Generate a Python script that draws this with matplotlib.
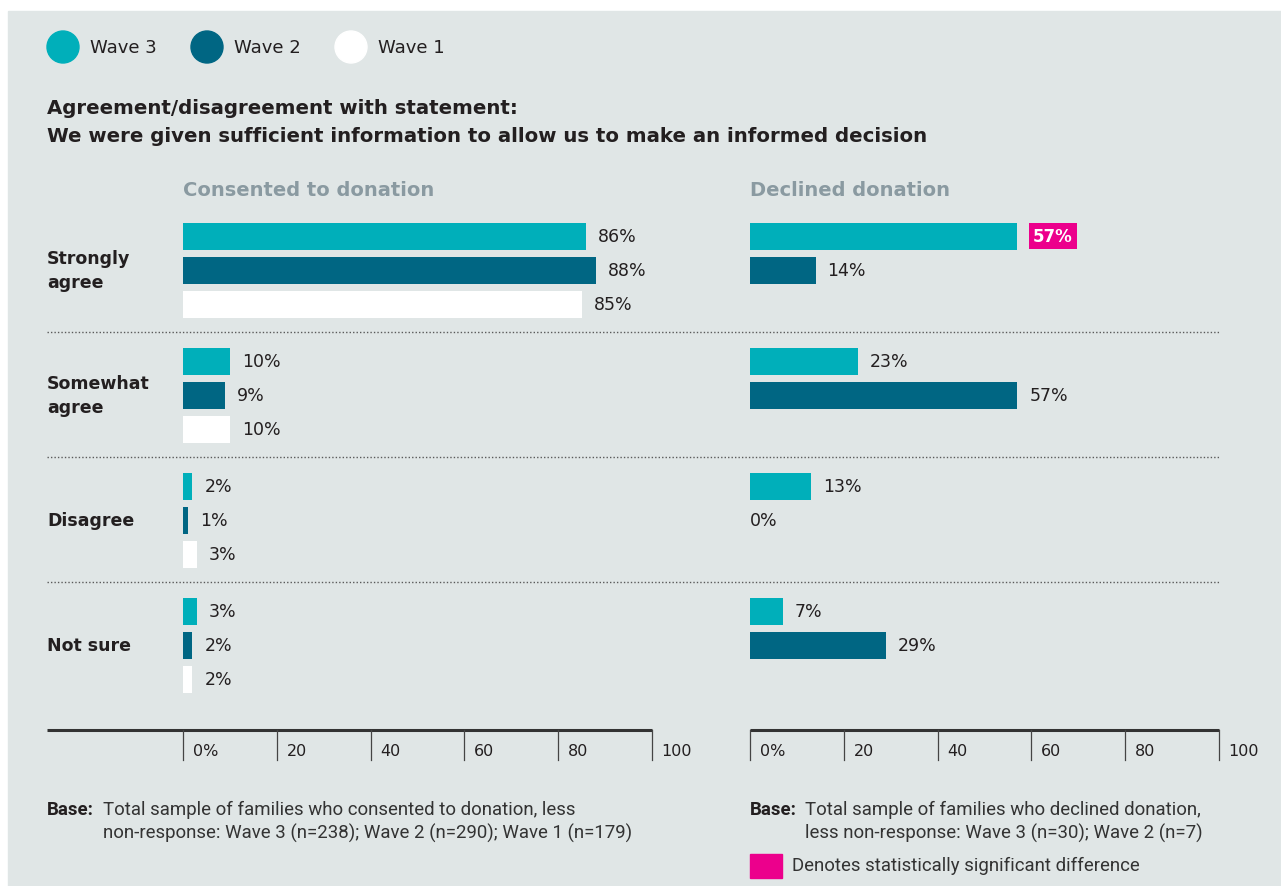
import matplotlib.pyplot as plt
from matplotlib.patches import Circle, Rectangle

W, H = 1281, 887

categories = ['Strongly\nagree', 'Somewhat\nagree', 'Disagree', 'Not sure']
waves = ['Wave 3', 'Wave 2', 'Wave 1']

consented_w3 = [86, 10, 2, 3]
consented_w2 = [88, 9, 1, 2]
consented_w1 = [85, 10, 3, 2]

declined_w3 = [57, 23, 13, 7]
declined_w2 = [14, 57, 0, 29]
declined_sig_w3 = [True, False, False, False]

ticks = [0, 20, 40, 60, 80, 100]
tick_labels = ['0%', '20', '40', '60', '80', '100']

TEAL = '#00afba'
NAVY = '#006683'
WHITE = '#ffffff'
PINK = '#ec008c'
BG = '#e0e6e6'
DARK = '#231f20'
HEAD = '#8a9aa1'

MAIN = ['DejaVu Sans']
NARROW = ['Roboto', 'DejaVu Sans']
FOOT = 13.4


def box(x0, y0, x1, y1):
    return [x0 / W, 1 - y1 / H, (x1 - x0) / W, (y1 - y0) / H]


fig = plt.figure(figsize=(W / 100, H / 100), dpi=100)
fig.patch.set_facecolor('white')

# pixel-space layer for background, text and rules
bg = fig.add_axes([0, 0, 1, 1])
bg.set_xlim(0, W)
bg.set_ylim(H, 0)
bg.axis('off')
bg.add_patch(Rectangle((8, 12), W - 8, H - 12, color=BG, zorder=0))

# legend
for i, (name, col) in enumerate(zip(waves, [TEAL, NAVY, WHITE])):
    cx = 63 + 144 * i
    bg.add_patch(Circle((cx, 48), 16, color=col, zorder=2))
    bg.text(cx + 27, 48, name, fontsize=13, color=DARK, va='center',
            family=MAIN)

bg.text(47, 108, 'Agreement/disagreement with statement:', fontsize=14.2,
        fontweight='bold', color=DARK, va='center', family=MAIN)
bg.text(47, 136, 'We were given sufficient information to allow us to make an informed decision',
        fontsize=14.2, fontweight='bold', color=DARK, va='center', family=MAIN)

bg.text(183, 191, 'Consented to donation', fontsize=14, fontweight='bold',
        color=HEAD, va='center', family=MAIN)
bg.text(750, 191, 'Declined donation', fontsize=14, fontweight='bold',
        color=HEAD, va='center', family=MAIN)

for i, cat in enumerate(categories):
    bg.text(47, 271 + 125 * i, cat, fontsize=12.5, fontweight='bold',
            color=DARK, va='center', family=MAIN, linespacing=1.45)

for y in [333, 458, 583]:
    bg.plot([47, 1220], [y, y], ls=(0, (1, 1.5)), color='#5a5a5a', lw=1.0)

# axis rules
bg.plot([47, 652], [731, 731], color='#333333', lw=2.2, solid_capstyle='butt')
bg.plot([750, 1219], [731, 731], color='#333333', lw=2.2, solid_capstyle='butt')

# footnotes
bg.text(47, 810, 'Base:', fontsize=FOOT, fontweight='bold', color=DARK,
        va='center', family=NARROW)
bg.text(103, 810, 'Total sample of families who consented to donation, less',
        fontsize=FOOT, color='#333333', va='center', family=NARROW)
bg.text(103, 833, 'non-response: Wave 3 (n=238); Wave 2 (n=290); Wave 1 (n=179)',
        fontsize=FOOT, color='#333333', va='center', family=NARROW)
bg.text(750, 810, 'Base:', fontsize=FOOT, fontweight='bold', color=DARK,
        va='center', family=NARROW)
bg.text(805, 810, 'Total sample of families who declined donation,',
        fontsize=FOOT, color='#333333', va='center', family=NARROW)
bg.text(805, 833, 'less non-response: Wave 3 (n=30); Wave 2 (n=7)',
        fontsize=FOOT, color='#333333', va='center', family=NARROW)
bg.add_patch(Rectangle((750, 855), 32, 24, color=PINK))
bg.text(792, 866, 'Denotes statistically significant difference',
        fontsize=FOOT, color='#333333', va='center', family=NARROW)


def panel(x0, x1, series, colors, sig):
    ax = fig.add_axes(box(x0, 215, x1, 761))
    ax.patch.set_alpha(0)
    ax.set_xlim(0, 100)
    # group centres at 0..3, bar slots 34px apart in 125px groups
    top = (215 - 271) / 125
    bottom = (761 - 271) / 125
    ax.set_ylim(bottom, top)
    axis_y = (731 - 271) / 125
    for s, (vals, col) in enumerate(zip(series, colors)):
        offs = (s - 1) * 34 / 125
        ys = [i + offs for i in range(len(vals))]
        ax.barh(ys, vals, height=27 / 125, color=col, zorder=3)
        for i, (v, y) in enumerate(zip(vals, ys)):
            dx = 8.6 if v > 0 else 0
            if sig[s][i]:
                ax.annotate(f'{v}%', (v, y), xytext=(dx + 2.6, 0),
                            textcoords='offset points', va='center',
                            ha='left', fontsize=12, fontweight='bold',
                            color='white', family=MAIN,
                            bbox=dict(boxstyle='square,pad=0.25', fc=PINK, ec='none'))
            else:
                ax.annotate(f'{v}%', (v, y), xytext=(dx, 0),
                            textcoords='offset points', va='center',
                            ha='left', fontsize=12.5, color=DARK, family=MAIN)
    for t, lab in zip(ticks, tick_labels):
        ax.plot([t, t], [axis_y, bottom], color='#444444', lw=0.9,
                clip_on=False)
        ax.annotate(lab, (t, (752 - 271) / 125), xytext=(7, 0),
                    textcoords='offset points', va='center', ha='left',
                    fontsize=11.5, color=DARK, family=MAIN)
    ax.axis('off')
    return ax


panel(183, 652, [consented_w3, consented_w2, consented_w1],
      [TEAL, NAVY, WHITE], [[False] * 4] * 3)
panel(750, 1219, [declined_w3, declined_w2],
      [TEAL, NAVY], [declined_sig_w3, [False] * 4])

fig.savefig('out.png', dpi=100, facecolor='white')
